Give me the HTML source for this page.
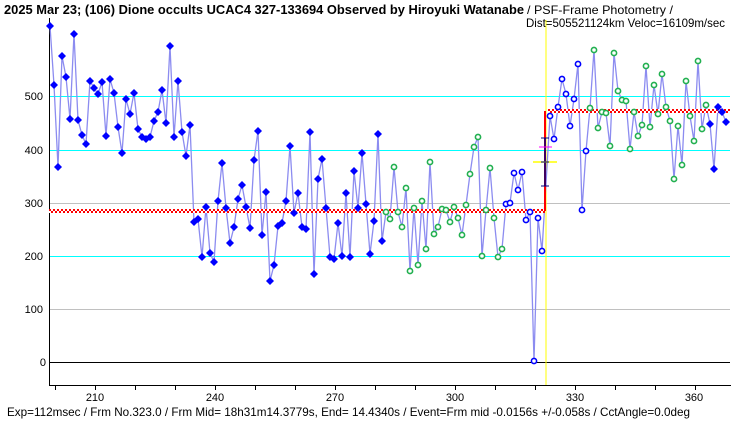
<!DOCTYPE html>
<html><head><meta charset="utf-8"><style>
body{margin:0;background:#fff;}
svg{display:block;font-family:"Liberation Sans","Noto Sans CJK JP",sans-serif;}
</style></head><body>
<svg id="s" width="740" height="425" viewBox="0 0 740 425" xmlns="http://www.w3.org/2000/svg">
<rect width="740" height="425" fill="#fff"/>
<text x="4" y="14" font-size="12.5" font-weight="bold" textLength="520" lengthAdjust="spacingAndGlyphs">2025 Mar 23; (106) Dione occults UCAC4 327-133694 Observed by Hiroyuki Watanabe</text>
<text x="527" y="14" font-size="12" textLength="146" lengthAdjust="spacingAndGlyphs">/ PSF-Frame Photometry /</text>
<text x="526" y="27" font-size="12" textLength="199" lengthAdjust="spacingAndGlyphs">Dist=505521124km Veloc=16109m/sec</text>
<g stroke-width="1">
<line x1="50" x2="730" y1="96.5" y2="96.5" stroke="#00ffff"/>
<line x1="50" x2="730" y1="150.5" y2="150.5" stroke="#00ffff"/>
<line x1="50" x2="730" y1="203.5" y2="203.5" stroke="#c0c0c0"/>
<line x1="50" x2="730" y1="256.5" y2="256.5" stroke="#00ffff"/>
<line x1="50" x2="730" y1="309.5" y2="309.5" stroke="#c0c0c0"/>
<line x1="50" x2="730" y1="362.5" y2="362.5" stroke="#000"/>
<line x1="49.5" x2="49.5" y1="18" y2="386" stroke="#000"/>
<line x1="49" x2="731" y1="385.5" y2="385.5" stroke="#000"/>
<line x1="546" x2="546" y1="20" y2="385" stroke="#ffff00"/>
</g>
<g font-size="11" text-anchor="end">
<text x="43" y="100">500</text><text x="43" y="154">400</text><text x="43" y="207">300</text>
<text x="43" y="260">200</text><text x="43" y="313">100</text><text x="46" y="366">0</text>
</g>
<g id="ticks" stroke="#000"></g>
<g font-size="11" text-anchor="middle">
<text x="95" y="401">210</text><text x="215" y="401">240</text><text x="335" y="401">270</text>
<text x="455" y="401">300</text><text x="575" y="401">330</text><text x="694" y="401">360</text>
</g>
<text x="7" y="416" font-size="12" textLength="683" lengthAdjust="spacingAndGlyphs">Exp=112msec / Frm No.323.0 / Frm Mid= 18h31m14.3779s,  End= 14.4340s / Event=Frm mid -0.0156s +/-0.058s / CctAngle=0.0deg</text>
<g id="plot"></g>
</svg>
<script>
var ns="http://www.w3.org/2000/svg";
function el(p,t,a){var e=document.createElementNS(ns,t);for(var k in a)e.setAttribute(k,a[k]);p.appendChild(e);return e;}
var tk=document.getElementById("ticks");
for(var f=200;f<=370;f+=10){var x=55+(f-200)*4;if(x>730)break;el(tk,"line",{x1:x+.5,x2:x+.5,y1:386,y2:390});}
var P=[[50,26],[54,85],[58,167],[62,56],[66,77],[70,119],[74,34],[78,120],[82,135],[86,144],[90,81],[94,88],[98,94],[102,82],[106,136],[110,79],[114,93],[118,127],[122,153],[126,99],[130,114],[134,93],[138,129],[142,137],[146,139],[150,137],[154,121],[158,112],[162,90],[166,123],[170,46],[174,137],[178,81],[182,132],[186,156],[190,125],
[194,222],[198,219],[202,257],[206,207],[210,253],[214,262],[218,201],[222,163],[226,208],[230,243],[234,227],[238,199],[242,185],[246,207],[250,228],[254,160],[258,131],[262,235],[266,192],[270,281],[274,265],[278,226],[282,223],[286,201],[290,146],[294,213],[298,193],[302,227],[306,229],[310,132],[314,274],[318,179],[322,159],[326,208],[330,257],[334,259],[338,223],[342,256],[346,193],[350,257],[354,171],[358,208],[362,153],[366,204],[370,254],[374,221],[378,134],[382,241],
[386,212],[390,219],[394,167],[398,212],[402,227],[406,188],[410,271],[414,208],[418,265],[422,201],[426,249],[430,162],[434,234],[438,227],[442,209],[446,210],[450,222],[454,207],[458,218],[462,235],[466,205],[470,174],[474,147],[478,137],[482,256],[486,210],[490,168],[494,218],[498,257],[502,249],
[506,204],[510,203],[514,173],[518,190],[522,172],[526,220],[530,212],[534,361],[538,218],[542,251],
[550,116],[554,139],[558,107],[562,79],[566,94],[570,126],[574,99],[578,64],[582,210],[586,151],
[590,108],[594,50],[598,128],[602,112],[606,113],[610,146],[614,53],[618,91],[622,100],[626,101],[630,149],[634,112],[638,136],[642,125],[646,66],[650,127],[654,85],[658,114],[662,74],[666,107],[670,121],[674,179],[678,126],[682,165],[686,81],[690,116],[694,141],[698,61],[702,129],[706,105],
[710,124],[714,169],[718,107],[722,112],[726,122]];
var g=document.getElementById("plot");
el(g,"polyline",{points:P.map(function(p){return p.join(",")}).join(" "),fill:"none",stroke:"#8c8cf0","stroke-width":1.3});
function lvl(x1,x2,y){el(g,"line",{x1:x1,x2:x2,y1:y,y2:y,stroke:"#fff","stroke-width":4});
el(g,"line",{x1:x1,x2:x2,y1:y-1,y2:y-1,stroke:"#f00","stroke-width":2,"stroke-dasharray":"2 2"});
el(g,"line",{x1:x1+2,x2:x2,y1:y+1,y2:y+1,stroke:"#f00","stroke-width":2,"stroke-dasharray":"2 2"});}
lvl(49,545,211);lvl(548,730,111);
el(g,"line",{x1:545,x2:545,y1:211,y2:111,stroke:"#f00","stroke-width":2});
el(g,"line",{x1:545,x2:545,y1:138,y2:186,stroke:"#000080","stroke-width":1.5});
el(g,"line",{x1:541,x2:549,y1:138,y2:138,stroke:"#000080"});
el(g,"line",{x1:541,x2:549,y1:186,y2:186,stroke:"#000080"});
el(g,"line",{x1:533,x2:557,y1:162,y2:162,stroke:"#ffff00","stroke-width":1.5});
el(g,"line",{x1:539,x2:552,y1:147,y2:147,stroke:"#ff00ff"});
el(g,"line",{x1:541,x2:549,y1:162,y2:162,stroke:"#000080"});
P.forEach(function(p){var x=p[0],y=p[1];
 var t=x<=382?"f":x<=502?"g":x<=586?"h":x<=706?"g":"f";
 if(t=="f")el(g,"polygon",{points:(x)+","+(y-4)+" "+(x+4)+","+y+" "+x+","+(y+4)+" "+(x-4)+","+y,fill:"#0000ff"});
 else el(g,"circle",{cx:x,cy:y,r:2.6,fill:"#fff",stroke:t=="g"?"#22b050":"#0000ff","stroke-width":1.6});
});
</script>
</body></html>
